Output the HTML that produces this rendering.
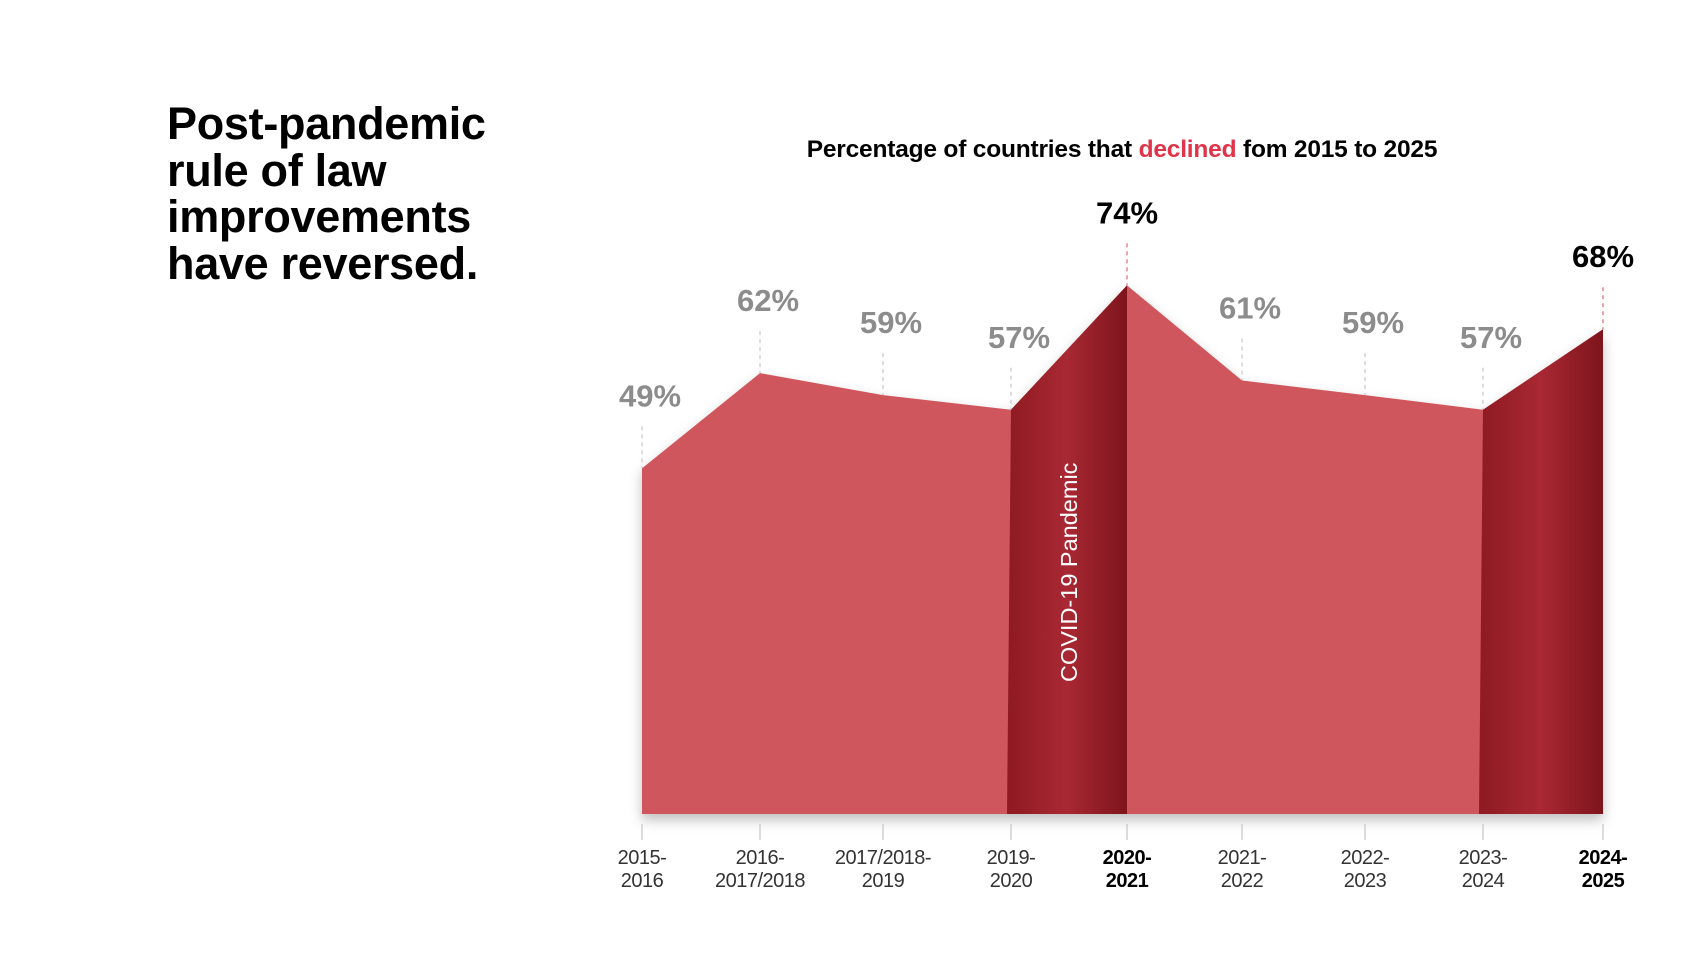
<!DOCTYPE html>
<html><head><meta charset="utf-8"><style>
body{margin:0;width:1707px;height:960px;background:#fff;overflow:hidden;font-family:"Liberation Sans",sans-serif}
h1{position:absolute;left:167px;top:101px;margin:0;font-size:45px;line-height:46.5px;font-weight:bold;letter-spacing:-0.3px;color:#000}
</style></head><body>
<h1>Post-pandemic<br>rule of law<br>improvements<br>have reversed.</h1>
<svg id="c" width="1707" height="960" style="position:absolute;left:0;top:0">
<defs>
<linearGradient id="dk" x1="0" x2="1"><stop offset="0" stop-color="#8e1a22"/><stop offset="0.5" stop-color="#a82833"/><stop offset="1" stop-color="#7e141c"/></linearGradient>
<filter id="sh" x="-5%" y="-5%" width="110%" height="115%"><feDropShadow dx="0" dy="6" stdDeviation="6" flood-opacity="0.25"/></filter>
</defs>
<text x="1122" y="157" text-anchor="middle" font-size="24.5" font-weight="bold" letter-spacing="-0.2">Percentage of countries that <tspan fill="#e0344a">declined</tspan> fom 2015 to 2025</text>
<g id="g"></g>
</svg>
<script>
const categories=[["2015-","2016"],["2016-","2017/2018"],["2017/2018-","2019"],["2019-","2020"],["2020-","2021"],["2021-","2022"],["2022-","2023"],["2023-","2024"],["2024-","2025"]];
const values=[49,62,59,57,74,61,59,57,68];
const highlight=[false,false,false,false,true,false,false,false,true];
const darkBands=[[3,4],[7,8]];
const xs=[642,760,883,1011,1127,1242,1365,1483,1603];
function X(i){return xs[i];}
function Y(v){return 827-v*7.32;}
const base=814,NS="http://www.w3.org/2000/svg",g=document.getElementById('g');
function mk(t,a){const e=document.createElementNS(NS,t);for(const k in a)e.setAttribute(k,a[k]);g.appendChild(e);return e;}
let d="M"+X(0)+","+base;values.forEach((v,i)=>d+=" L"+X(i)+","+Y(v));d+=" L"+X(values.length-1)+","+base+"Z";
const area=mk('path',{d:d,fill:'#cf565c',filter:'url(#sh)'});


darkBands.forEach(b=>{const [a,c]=b;
 const p=mk('path',{d:`M${X(a)-4},${base} L${X(a)},${Y(values[a])} L${X(c)},${Y(values[c])} L${X(c)},${base}Z`,fill:'url(#dk)'});
 
 });
const cv=mk('text',{x:0,y:0,transform:`translate(${(X(3)+X(4))/2+8},${base-132}) rotate(-90)`,fill:'#fff','font-size':23.5});
cv.textContent='COVID-19 Pandemic';


values.forEach((v,i)=>{
 const x=X(i),y=Y(v),hl=highlight[i];
 const ln=mk('line',{x1:x,x2:x,y1:y-42,y2:y,stroke:hl?'#e0445a':'#bbb','stroke-dasharray':'4,4'});
 
 
 const t=mk('text',{x:x+(hl?0:8),y:y-62,'text-anchor':'middle','font-size':31,'font-weight':'bold',fill:hl?'#000':'#8c8c8c'});
 t.textContent=v+'%';
 
 
 const tk=mk('line',{x1:x,x2:x,y1:824,y2:840,stroke:'#bbb'});
 
 
 categories[i].forEach((s,j)=>{const l=mk('text',{x:x,y:864+j*23,'text-anchor':'middle','font-size':20,'font-weight':hl?'bold':'normal',fill:hl?'#000':'#333','letter-spacing':'-0.5'});
  l.textContent=s;
  
  });
});
</script>
</body></html>
